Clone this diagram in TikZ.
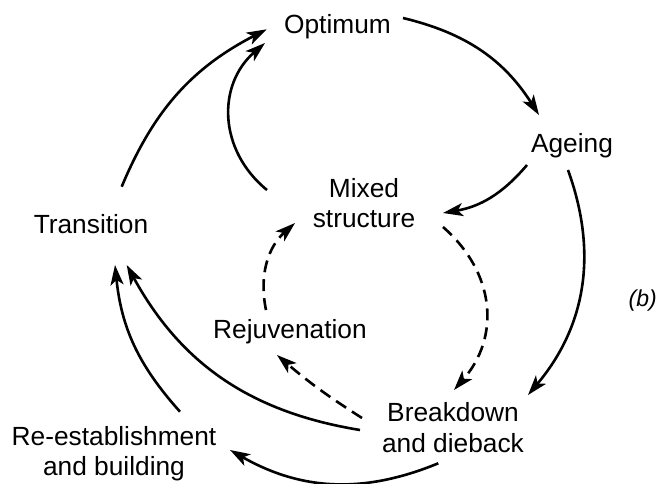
\documentclass[tikz,border=0pt]{standalone}
\usepackage{fontspec}
\setmainfont{Liberation Sans}
\usetikzlibrary{arrows.meta}
\newcommand{\twoline}[2]{\begin{tabular}[t]{@{}c@{}}#1\\#2\end{tabular}}
\begin{document}
\begin{tikzpicture}[x=1pt,y=1pt,
  lbl/.style={inner sep=0pt, anchor=base, font=\fontsize{26.3}{30.5}\selectfont},
  arr/.style={line width=2.6pt, -{Stealth[length=20pt,width=13pt,inset=5pt]}},
  dsh/.style={arr, dash pattern=on 12pt off 7pt}]
\useasboundingbox[fill=white] (0,0) rectangle (657,-483);

\node[lbl] (opt) at (337.5,-33) {Optimum};
\node[lbl] (age) at (572,-152) {Ageing};
\node[lbl] (mix) at (364,-197) {\twoline{Mixed}{structure}};
\node[lbl] (tra) at (91,-233) {Transition};
\node[lbl] (rej) at (290,-338) {Rejuvenation};
\node[lbl] (brk) at (453,-421.7) {\twoline{Breakdown}{and dieback}};
\node[lbl] (res) at (114,-445) {\twoline{Re-establishment}{and building}};
\node[lbl, anchor=base east, font=\fontsize{23}{27}\selectfont] (lb) at (657,-306) {\textit{(b)}};

% Optimum -> Ageing
\draw[arr] ([shift={(65.5,15)}]opt.base) to[bend left=22] ([shift={(-33,37)}]age.base);
% Ageing -> Mixed structure
\draw[arr] ([shift={(-45,-13)}]age.base) to[bend left=20] ([shift={(79,-16)}]mix.base);
% Ageing -> Breakdown
\draw[arr] ([shift={(-4,-18)}]age.base) to[bend left=30] ([shift={(75,26.7)}]brk.base);
% Mixed structure -> Breakdown (dashed)
\draw[dsh] ([shift={(79,-30)}]mix.base) to[bend left=45,looseness=1.1] ([shift={(1,31.7)}]brk.base);
% Breakdown -> Rejuvenation (dashed)
\draw[dsh] ([shift={(-91,3.7)}]brk.base) to[bend left=4] ([shift={(-13,-17)}]rej.base);
% Rejuvenation -> Mixed structure (dashed)
\draw[dsh] ([shift={(-24,28)}]rej.base) to[bend left=30] ([shift={(-69,-26)}]mix.base);
% Mixed structure -> Optimum
\draw[arr] ([shift={(-97,7)}]mix.base) to[bend left=50,looseness=1.1] ([shift={(-72.5,-10)}]opt.base);
% Transition -> Optimum
\draw[arr] ([shift={(30.7,46.3)}]tra.base) to[bend left=20] ([shift={(-70.8,3.7)}]opt.base);
% Breakdown -> Transition
\draw[arr] ([shift={(-93,-8.3)}]brk.base) to[bend left=26] ([shift={(35.7,-32)}]tra.base);
% Re-establishment -> Transition
\draw[arr] ([shift={(66,33.3)}]res.base) to[bend left=18] ([shift={(24,-32)}]tra.base);
% Breakdown -> Re-establishment
\draw[arr] ([shift={(-14.7,-41.6)}]brk.base) to[bend left=26] ([shift={(116,-5)}]res.base);
\end{tikzpicture}
\end{document}
